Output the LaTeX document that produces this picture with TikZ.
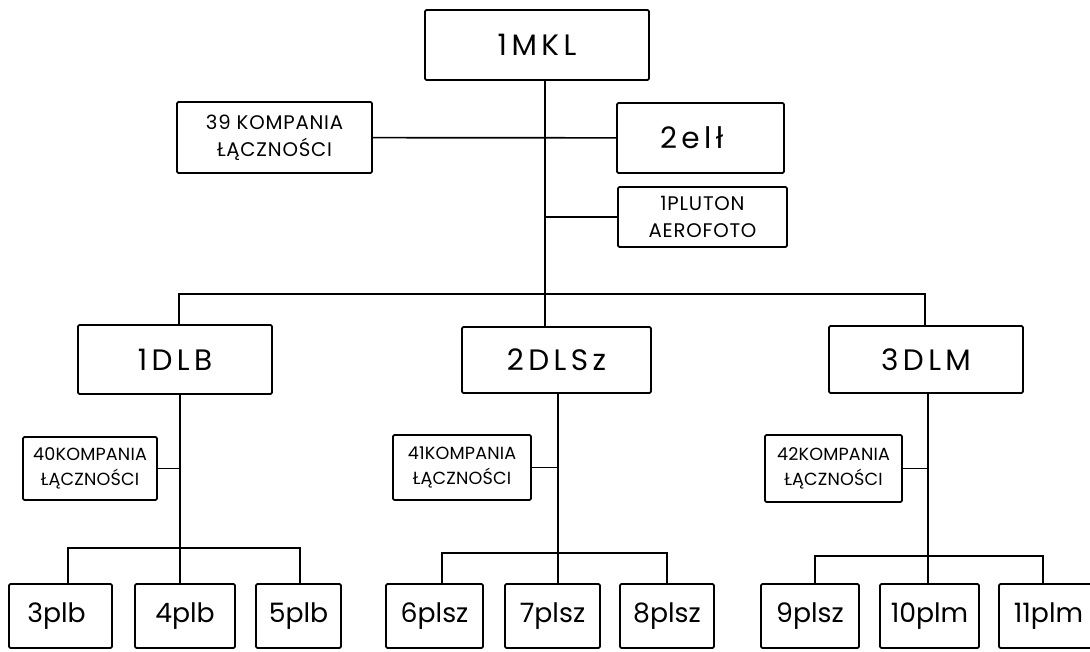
\documentclass[tikz,border=0pt]{standalone}
\usepackage{fontspec}
\setmainfont{Poppins}
\usetikzlibrary{positioning}

\begin{document}
\begin{tikzpicture}[x=0.025cm, y=-0.025cm,
    box/.style={draw, line width=1.2pt, rounded corners=1pt, inner sep=0pt, align=center},
    sz/.style 2 args={minimum width=#1*0.025cm, minimum height=#2*0.025cm},
    big/.style={box, font=\fontsize{21}{24}\selectfont\addfontfeatures{LetterSpace=15}},
    comp/.style={box, font=\fontsize{14}{19}\selectfont\addfontfeatures{LetterSpace=4}},
    comps/.style={box, font=\fontsize{12.5}{18}\selectfont\addfontfeatures{LetterSpace=1}},
    leaf/.style={box, font=\fontsize{19}{20}\selectfont},
    ln/.style={line width=1.2pt}
]
    \useasboundingbox (0,0) rectangle (1090,651);

    % dowodztwo
    \node[big, sz={224}{70}] (MKL) at (537,45) {1MKL};
    \node[comp, sz={195}{71}] (KL39) at (274.5,137.5) {39 KOMPANIA\\ŁĄCZNOŚCI};
    \node[big, sz={167}{70}] (ELL) at (700.5,138) {2elł\hspace{0.6em}};
    \node[comp, sz={169}{60}] (PLUT) at (702.5,217) {1PLUTON\\AEROFOTO};

    % dywizje
    \node[big, sz={194}{69}] (DLB) at (175,359.5) {1DLB};
    \node[big, sz={189}{66}] (DLSZ) at (556.5,360) {2DLSz};
    \node[big, sz={194}{67}] (DLM) at (926,359.5) {3DLM};

    \node[comps, sz={134}{63}] (KL40) at (90,468.5) {40KOMPANIA\\ŁĄCZNOŚCI};
    \node[comps, sz={138}{65}] (KL41) at (462,467.5) {41KOMPANIA\\ŁĄCZNOŚCI};
    \node[comps, sz={137}{67}] (KL42) at (833.5,468.5) {42KOMPANIA\\ŁĄCZNOŚCI};

    % pulki
    \node[leaf, sz={103}{64}] (P3) at (60.5,616) {3plb\hspace{0.3em}};
    \node[leaf, sz={100}{64}] (P4) at (185,616) {4plb};
    \node[leaf, sz={85}{64}] (P5) at (298.5,616) {5plb};
    \node[leaf, sz={97}{64}] (P6) at (434.5,616) {6plsz};
    \node[leaf, sz={95}{64}] (P7) at (552.5,616) {7plsz};
    \node[leaf, sz={94}{64}] (P8) at (667,616) {8plsz};
    \node[leaf, sz={98}{64}] (P9) at (810,616) {9plsz};
    \node[leaf, sz={99}{64}] (P10) at (929.5,616) {10plm};
    \node[leaf, sz={99}{64}] (P11) at (1048.5,616) {11plm};

    % wezly
    \coordinate (J0) at (545,294);
    \coordinate (JL) at (179,294);
    \coordinate (JR) at (925,294);
    \coordinate (S1) at (180,548);
    \coordinate (S1L) at (68,548);
    \coordinate (S1R) at (300,548);
    \coordinate (S2) at (558,553);
    \coordinate (S2L) at (442,553);
    \coordinate (S2R) at (667,553);
    \coordinate (S3) at (928,556);
    \coordinate (S3L) at (815,556);
    \coordinate (S3R) at (1043,556);

    \draw[ln] (MKL.south -| J0) -- (J0) -- (DLSZ.north -| J0);
    \draw[ln] (KL39) -- (ELL);
    \draw[ln] (PLUT.west) -- (PLUT.west -| J0);
    \draw[ln] (DLB.north -| JL) -- (JL) -- (JR) -- (DLM.north -| JR);

    \draw[ln] (DLB.south -| S1) -- (S1) -- (P4.north -| S1);
    \draw[ln] (KL40.east) -- (KL40.east -| S1);
    \draw[ln] (P3.north -| S1L) -- (S1L) -- (S1R) -- (P5.north -| S1R);

    \draw[ln] (DLSZ.south -| S2) -- (S2) -- (P7.north -| S2);
    \draw[ln] (KL41.east) -- (KL41.east -| S2);
    \draw[ln] (P6.north -| S2L) -- (S2L) -- (S2R) -- (P8.north -| S2R);

    \draw[ln] (DLM.south -| S3) -- (S3) -- (P10.north -| S3);
    \draw[ln] (KL42.east) -- (KL42.east -| S3);
    \draw[ln] (P9.north -| S3L) -- (S3L) -- (S3R) -- (P11.north -| S3R);
\end{tikzpicture}
\end{document}
